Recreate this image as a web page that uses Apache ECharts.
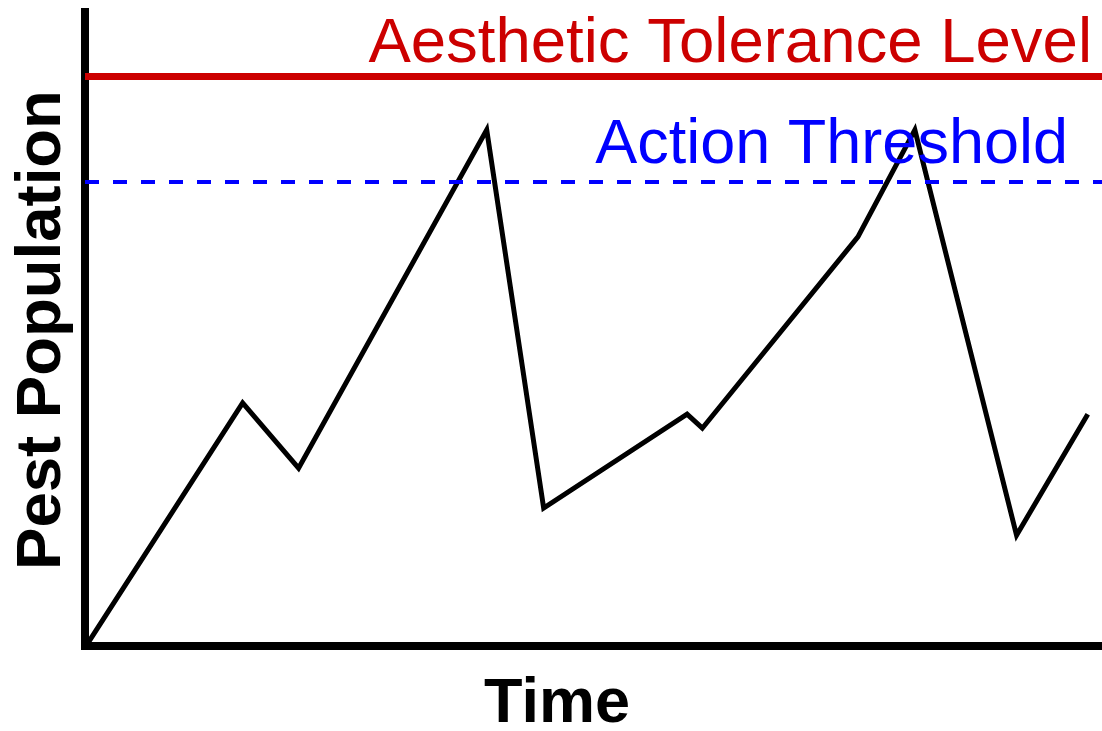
<!DOCTYPE html>
<html>
<head>
<meta charset="utf-8">
<script src="https://cdn.jsdelivr.net/npm/echarts@6/dist/echarts.min.js"></script>
<style>
  html, body { margin: 0; padding: 0; background: #fff; }
  #chart { width: 1102px; height: 731px; }
</style>
</head>
<body>
<div id="chart"></div>
<script>
// time (0-100) and pest population (0-100)
const timePoints = [0.3, 15.5, 21.0, 39.5, 45.1, 59.2, 60.7, 76.0, 81.6, 91.6, 98.6];
const population = [0.4, 38.3, 28.0, 81.4, 21.7, 36.5, 34.3, 64.5, 81.4, 17.4, 36.5];
const toleranceLevel = 89.8;
const actionThreshold = 73.2;

const FONT = 'Liberation Sans, Arial, sans-serif';

const chart = echarts.init(document.getElementById('chart'));

chart.setOption({
  animation: false,
  grid: { left: 85, right: 0, top: 12, bottom: 85.5 },
  xAxis: {
    type: 'value', min: 0, max: 100,
    axisLine: { show: true, lineStyle: { color: '#000', width: 8, cap: 'square' } },
    axisTick: { show: false }, axisLabel: { show: false }, splitLine: { show: false }
  },
  yAxis: {
    type: 'value', min: 0, max: 100,
    axisLine: { show: true, lineStyle: { color: '#000', width: 8, cap: 'square' } },
    axisTick: { show: false }, axisLabel: { show: false }, splitLine: { show: false }
  },
  graphic: [
    {
      type: 'text', x: 557, y: 705,
      style: { text: 'Time', font: 'bold 63px ' + FONT, fill: '#000', textAlign: 'center', textVerticalAlign: 'middle' }
    },
    {
      type: 'text', x: 42, y: 330, rotation: Math.PI / 2,
      style: { text: 'Pest Population', font: 'bold 63.5px ' + FONT, fill: '#000', textAlign: 'center', textVerticalAlign: 'middle' }
    }
  ],
  series: [{
    type: 'line',
    data: timePoints.map((t, i) => [t, population[i]]),
    symbol: 'none',
    lineStyle: { color: '#000', width: 5, join: 'miter' },
    markLine: {
      silent: true,
      symbol: 'none',
      data: [
        {
          yAxis: toleranceLevel,
          lineStyle: { color: '#cc0000', width: 7, type: 'solid' },
          label: {
            show: true, position: 'insideEndTop', formatter: 'Aesthetic Tolerance Level',
            color: '#cc0000', fontFamily: FONT, fontSize: 63.5, distance: [10, 0]
          }
        },
        {
          yAxis: actionThreshold,
          lineStyle: { color: '#0000ff', width: 4, type: [14, 14] },
          label: {
            show: true, position: 'insideEndTop', formatter: 'Action Threshold',
            color: '#0000ff', fontFamily: FONT, fontSize: 63, distance: [34, 5]
          }
        }
      ]
    }
  }]
});
</script>
</body>
</html>
